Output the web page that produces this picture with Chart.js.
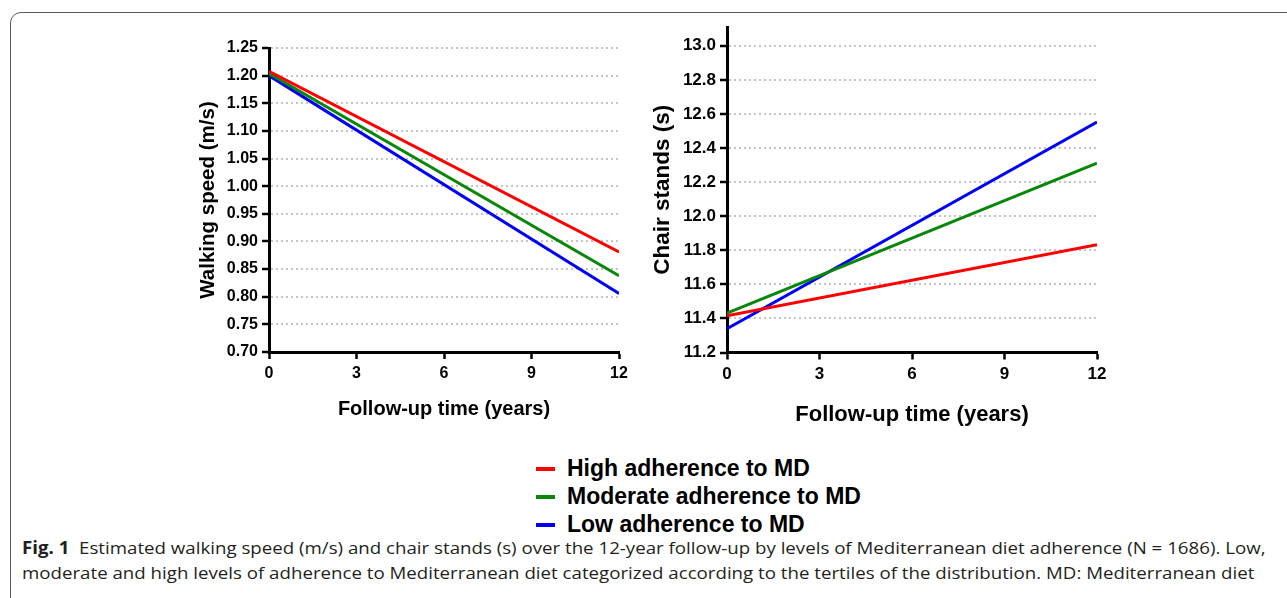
<!DOCTYPE html>
<html>
    <head>
        <meta charset="UTF-8" />
        <title>Walking speed and chair stands by Mediterranean diet adherence</title>
        <style type="text/css">
            body {
                margin: 0;
                width: 1287px;
                height: 598px;
                overflow: hidden;
                background: #fff;
                position: relative;
                font-family: "Liberation Sans", Arial, sans-serif;
            }
            .frame {
                position: absolute;
                left: 10px;
                top: 12px;
                width: 1320px;
                height: 640px;
                border: 1.5px solid #5a5a5a;
                border-radius: 11px;
            }
            #chart1 { position: absolute; left: 180px; top: 20px; }
            #chart2 { position: absolute; left: 640px; top: 10px; }
            .legendRow {
                position: absolute;
                left: 536px;
                height: 28px;
                line-height: 28px;
                font-size: 23px;
                font-weight: bold;
                color: #000;
                white-space: nowrap;
            }
            .legendRow span.swatch {
                display: inline-block;
                width: 19px;
                height: 4px;
                vertical-align: middle;
                margin-right: 12px;
                position: relative;
                top: -1px;
            }
            .caption {
                position: absolute;
                left: 22px;
                height: 22px;
                line-height: 22px;
                font-family: "Open Sans", "Noto Sans", sans-serif;
                font-size: 17px;
                color: #231f20;
                white-space: nowrap;
                transform-origin: 0 50%;
            }
        </style>
    </head>
    <body>
        <div class="frame"></div>
        <canvas id="chart1" width="460" height="420"></canvas>
        <canvas id="chart2" width="480" height="430"></canvas>
        <div id="legend"></div>
        <div class="caption" id="cap1" style="top:537px"><b>Fig. 1</b>&nbsp; Estimated walking speed (m/s) and chair stands (s) over the 12-year follow-up by levels of Mediterranean diet adherence (N = 1686). Low,</div>
        <div class="caption" id="cap2" style="top:562px">moderate and high levels of adherence to Mediterranean diet categorized according to the tertiles of the distribution. MD: Mediterranean diet</div>

        <script src="https://cdn.jsdelivr.net/npm/chart.js"></script>
        <script>
            // follow-up years (only the two ends of each fitted line)
            const years = [0, 12];
            const xTicks = [0, 3, 6, 9, 12];

            const seriesNames = ['High adherence to MD', 'Moderate adherence to MD', 'Low adherence to MD'];
            const seriesColors = ['#ff0000', '#0a870a', '#0000f5'];

            // walking speed (m/s)
            const walkHigh = [1.208, 0.881];
            const walkModerate = [1.204, 0.838];
            const walkLow = [1.200, 0.806];

            // chair stands (s)
            const chairHigh = [11.415, 11.832];
            const chairModerate = [11.431, 12.311];
            const chairLow = [11.339, 12.552];

            const tickFont = { family: '"Liberation Sans", Arial, sans-serif', weight: 'bold' };

            function makeDatasets(lists) {
                return lists.map((vals, i) => ({
                    label: seriesNames[i],
                    data: years.map((x, j) => ({ x: x, y: vals[j] })),
                    borderColor: seriesColors[i],
                    backgroundColor: seriesColors[i],
                    borderWidth: 3,
                    pointRadius: 0,
                    tension: 0,
                    fill: false
                }));
            }

            function makeConfig(opts) {
                return {
                    type: 'line',
                    data: { datasets: makeDatasets(opts.lists) },
                    options: {
                        responsive: false,
                        animation: false,
                        layout: { padding: opts.padding },
                        plugins: { legend: { display: false }, tooltip: { enabled: false } },
                        scales: {
                            x: {
                                type: 'linear',
                                min: 0,
                                max: 12,
                                afterBuildTicks: (s) => { s.ticks = xTicks.map(v => ({ value: v })); },
                                afterFit: (s) => { s.height = opts.xHeight; },
                                ticks: {
                                    color: '#000',
                                    padding: 5,
                                    font: Object.assign({ size: opts.tickSize }, tickFont)
                                },
                                grid: { drawOnChartArea: false, tickColor: '#000', tickLength: 7, tickWidth: 2.5 },
                                border: { color: '#000', width: 3 },
                                title: {
                                    display: true,
                                    text: 'Follow-up time (years)',
                                    color: '#000',
                                    padding: { top: 0, bottom: opts.xTitlePad },
                                    font: Object.assign({ size: opts.xTitleSize, lineHeight: 1.2 }, tickFont)
                                }
                            },
                            y: {
                                min: opts.yMin,
                                max: opts.yMax,
                                afterBuildTicks: (s) => { s.ticks = opts.yTicks.map(v => ({ value: v })); },
                                afterFit: (s) => { s.width = opts.yWidth; },
                                ticks: {
                                    color: '#000',
                                    padding: 4,
                                    font: Object.assign({ size: opts.tickSize }, tickFont),
                                    callback: (v) => v.toFixed(opts.decimals)
                                },
                                grid: { color: '#c4c4c4', lineWidth: 2, tickColor: '#000', tickLength: 7, tickWidth: 2.5 },
                                border: { color: '#000', width: 3, dash: [2, 3] },
                                title: {
                                    display: true,
                                    text: opts.yTitle,
                                    color: '#000',
                                    padding: { top: opts.yTitlePad, bottom: 0 },
                                    font: Object.assign({ size: opts.yTitleSize, lineHeight: 1.2 }, tickFont)
                                }
                            }
                        }
                    }
                };
            }

            const walkTicks = [0.70, 0.75, 0.80, 0.85, 0.90, 0.95, 1.00, 1.05, 1.10, 1.15, 1.20, 1.25];
            const chairTicks = [11.2, 11.4, 11.6, 11.8, 12.0, 12.2, 12.4, 12.6, 12.8, 13.0];

            const myChart1 = new Chart(document.getElementById('chart1'), makeConfig({
                lists: [walkHigh, walkModerate, walkLow],
                yMin: 0.70, yMax: 1.25, yTicks: walkTicks, decimals: 2,
                yTitle: 'Walking speed (m/s)',
                padding: { left: 0, right: 21, top: 28, bottom: 0 },
                xHeight: 88, yWidth: 89,
                tickSize: 16, xTitleSize: 20, yTitleSize: 20.5,
                xTitlePad: 19, yTitlePad: 16
            }));

            const myChart2 = new Chart(document.getElementById('chart2'), makeConfig({
                lists: [chairHigh, chairModerate, chairLow],
                yMin: 11.2, yMax: 13.11, yTicks: chairTicks, decimals: 1,
                yTitle: 'Chair stands (s)',
                padding: { left: 0, right: 23, top: 17, bottom: 0 },
                xHeight: 87.5, yWidth: 87,
                tickSize: 17, xTitleSize: 22, yTitleSize: 22.5,
                xTitlePad: 12, yTitlePad: 9
            }));

            // shared legend under both panels
            const legend = document.getElementById('legend');
            const legendY = [468, 496, 524];
            seriesNames.forEach((name, i) => {
                const row = document.createElement('div');
                row.className = 'legendRow';
                row.style.top = (legendY[i] - 14) + 'px';
                row.innerHTML = '<span class="swatch" style="background:' + seriesColors[i] + '"></span>' + name;
                legend.appendChild(row);
            });

            // squeeze caption lines to the printed width
            const cap1 = document.getElementById('cap1');
            const cap2 = document.getElementById('cap2');
            const k = 1243 / cap1.scrollWidth;
            cap1.style.transform = 'scaleX(' + k + ')';
            cap2.style.transform = 'scaleX(' + k + ')';
        </script>
    </body>
</html>
